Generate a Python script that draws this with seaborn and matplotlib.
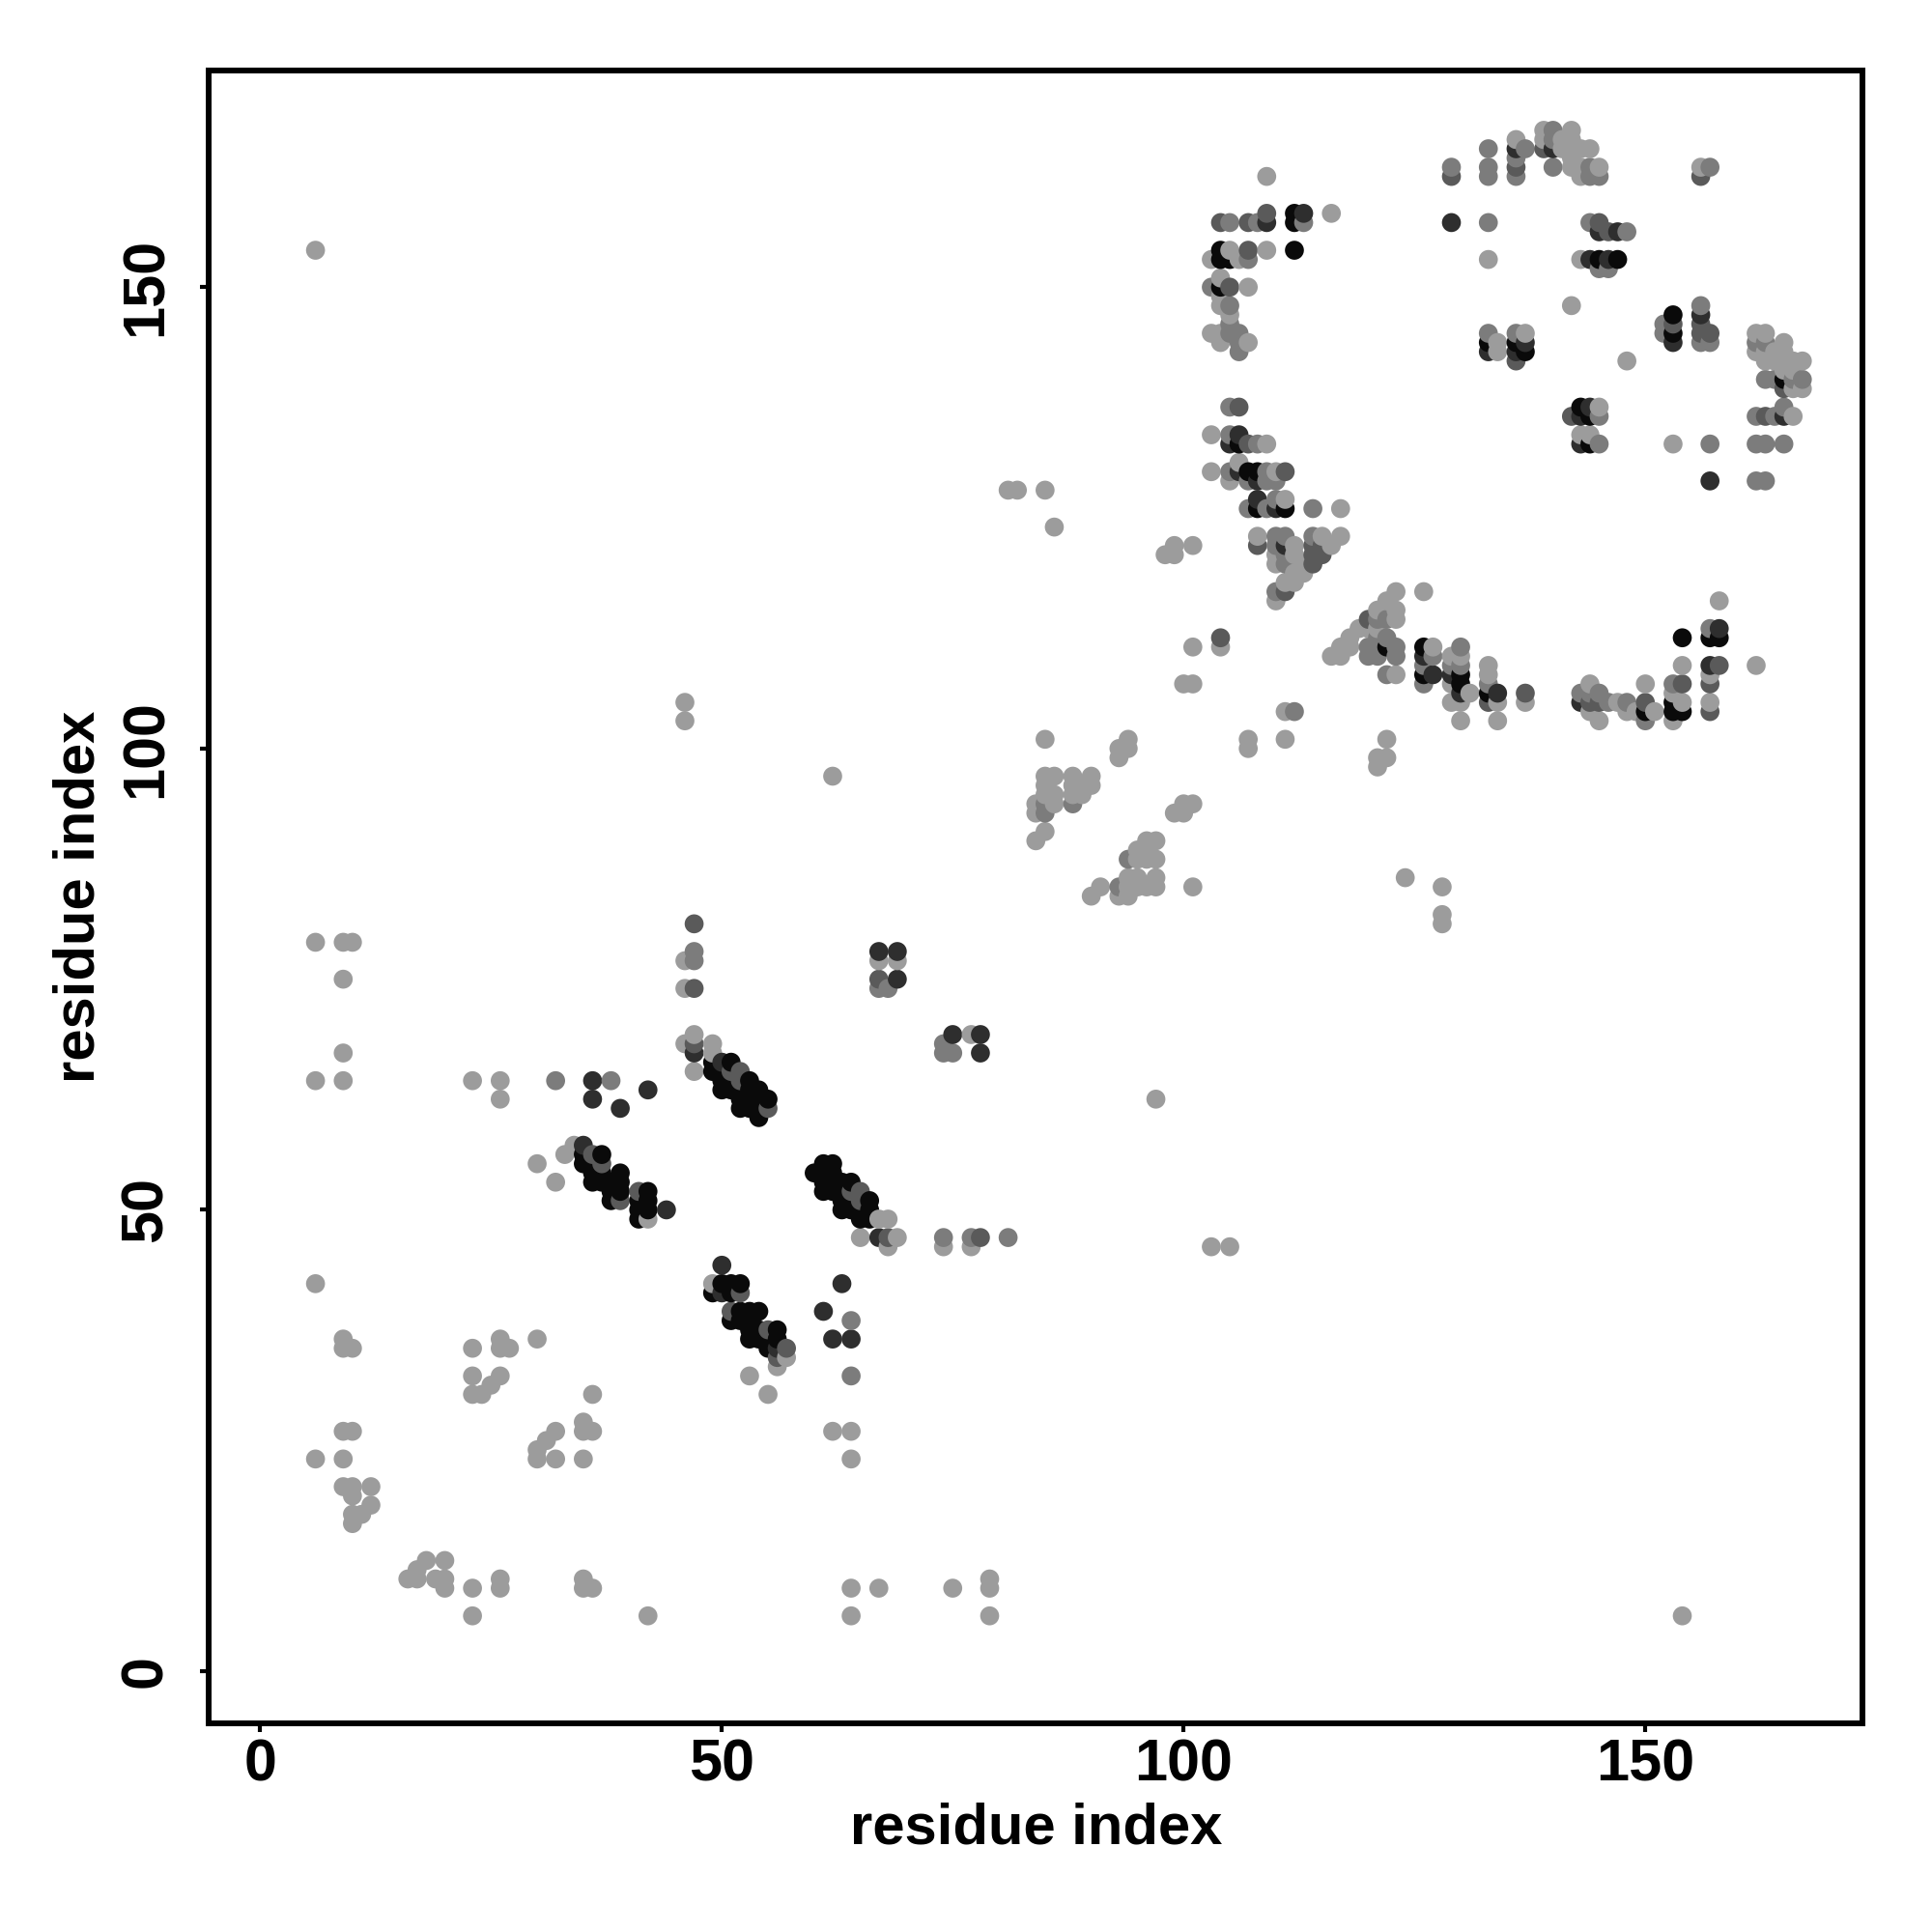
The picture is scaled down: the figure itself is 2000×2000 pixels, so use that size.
import matplotlib
matplotlib.use("Agg")
import matplotlib.pyplot as plt
import pandas as pd
import seaborn as sns

# contacts as (residue i, residue j), grouped by grey level
contacts_light = [
    (6,154),(6,79),(9,79),(10,79),(9,75),(9,67),(6,64),(9,64),(23,64),(26,64),(26,62),
    (6,42),(9,36),(9,35),(10,35),(23,35),(26,36),(26,35),(27,35),(30,36),(23,32),(26,32),
    (25,31),(24,30),(23,30),(36,30),(9,26),(10,26),(6,23),(9,23),(32,26),(31,25),(30,24),
    (30,23),(32,23),(35,27),(35,26),(36,26),(35,23),(9,20),(10,20),(12,20),(10,19),(12,18),
    (11,17),(10,17),(10,16),(18,12),(20,12),(17,11),(16,10),(17,10),(19,10),(20,10),(20,9),
    (23,9),(26,10),(26,9),(23,6),(35,10),(35,9),(36,9),(42,6),(64,9),(64,6),(67,9),(75,9),
    (79,10),(79,9),(79,6),(154,6),(97,62),(103,46),(105,46),(62,97),(46,105),(46,103),
    (30,55),(32,53),(33,56),(34,57),(42,49),(47,69),(46,68),(47,65),(49,68),(49,67),
    (67,49),(68,49),(65,47),(69,47),(68,46),(74,46),(77,46),(49,42),(57,34),(56,33),
    (53,32),(55,30),(62,26),(64,26),(64,23),(46,77),(46,74),(67,77),(69,77),(77,69),
    (100,107),(101,107),(111,104),(107,101),(107,100),(111,101),(85,101),(94,101),(93,100),
    (94,100),(93,99),(85,97),(86,97),(88,97),(90,97),(85,96),(88,96),(89,96),(90,96),
    (86,95),(85,95),(88,95),(89,95),(86,94),(84,94),(84,93),(85,91),(84,90),(101,94),(100,94),
    (100,93),(99,93),(96,90),(97,90),(95,89),(96,89),(95,88),(96,88),(97,88),(94,86),(95,86),
    (97,86),(94,85),(96,85),(97,85),(95,85),(101,85),(91,85),(90,84),(93,84),(94,84),
    (124,86),(128,85),(128,82),(128,81),(81,128),(82,128),(85,128),(86,124),(98,121),
    (99,122),(99,121),(101,122),(101,111),(104,111),(121,99),(122,99),(121,98),(122,101),
    (103,134),(109,133),(103,130),(106,131),(105,129),(110,130),(111,127),(117,126),
    (108,123),(112,122),(112,121),(115,123),(117,123),(116,122),(113,120),(113,119),(112,119),
    (111,118),(112,118),(110,116),(110,120),(110,121),(123,117),(126,117),(122,116),(123,115),
    (119,113),(118,112),(117,111),(118,111),(116,110),(117,110),(123,108),(127,111),
    (129,110),(130,110),(129,107),(131,106),(129,105),(130,105),(130,103),(133,109),(133,108),
    (134,105),(134,103),(137,105),(144,107),(144,104),(145,103),(147,105),(148,104),(149,104),
    (150,107),(151,104),(153,106),(154,105),(153,103),(154,109),(157,108),(157,105),(158,116),
    (162,109),(145,137),(143,134),(144,134),(153,133),(166,136),(136,166),(139,167),(139,166),
    (141,166),(142,167),(142,166),(142,165),(143,165),(144,165),(141,165),(142,164),(142,163),
    (143,163),(145,163),(143,162),(156,163),(143,153),(142,148),(148,142),(134,144),(134,143),
    (137,145),(162,145),(163,145),(162,143),(165,144),(163,143),(164,143),(165,143),(163,142),
    (164,142),(165,142),(166,142),(167,142),(166,139),(167,139),(165,141),(166,141),(109,162),
    (116,158),(105,154),(109,154),(103,153),(106,153),(104,151),(107,150),(104,149),(104,148),
    (105,147),(103,145),(104,145),(104,144),(107,144),(123,114),(120,113),(121,113),(121,115),
    (133,153),
]
contacts_mid = [
    (32,64),(38,64),(74,47),(77,47),(81,47),(64,38),(64,32),(47,78),(68,74),(67,74),
    (74,68),(74,67),(75,67),(47,77),(112,104),(85,94),(85,93),(88,94),(94,88),(93,85),
    (105,137),(105,134),(108,133),(105,130),(109,130),(109,129),(107,129),(110,129),(107,126),
    (109,126),(110,127),(114,126),(110,123),(111,123),(110,122),(111,121),(111,120),(114,123),
    (110,117),(121,114),(122,114),(121,112),(122,112),(123,111),(120,111),(121,111),(120,110),
    (121,110),(123,110),(127,110),(126,109),(126,107),(130,111),(129,109),(130,109),(133,107),
    (143,106),(144,106),(145,106),(146,105),(148,105),(150,103),(153,107),(153,105),(157,107),
    (157,104),(157,113),(145,136),(145,133),(157,133),(162,129),(163,129),(162,133),(163,133),
    (165,133),(162,136),(164,136),(165,137),(133,165),(133,163),(133,162),(137,165),(136,164),
    (136,162),(140,167),(140,166),(140,163),(144,163),(144,162),(145,162),(157,163),(144,157),
    (148,156),(145,152),(146,152),(133,145),(136,145),(152,146),(152,145),(156,148),(156,144),
    (157,144),(162,144),(163,144),(163,140),(164,140),(166,140),(167,140),(105,157),(108,157),
    (113,157),(107,153),(103,150),(105,148),(105,146),(106,145),(106,144),(106,143),(105,145),
    (129,163),(133,157),(122,108),
]
contacts_dark = [
    (55,37),(57,35),(56,34),(68,47),(78,47),(47,81),(47,74),(67,75),(75,69),(106,137),
    (105,133),(107,133),(111,130),(108,122),(114,122),(115,122),(104,112),(114,121),
    (115,121),(111,117),(120,114),(137,106),(133,106),(133,105),(143,105),(144,105),(145,105),
    (150,105),(154,107),(158,109),(157,107),(157,104),(142,136),(163,136),(165,139),(156,162),
    (133,143),(136,142),(145,157),(146,156),(153,146),(156,146),(156,145),(157,145),(104,157),
    (107,157),(109,158),(107,154),(105,150),(139,165),(136,163),(52,41),(51,39),(55,61),
    (47,68),(64,52),(65,52),(65,51),(51,65),(52,65),(52,64),(41,52),(39,51),(36,56),(37,55),
    (129,162),(114,120),
]
contacts_deep = [
    (36,64),(36,62),(39,61),(42,63),(44,50),(35,57),(47,67),(50,66),(50,44),(63,42),(61,39),
    (62,36),(64,36),(56,35),(67,47),(69,78),(67,78),(69,75),(75,69),(78,69),(78,67),(106,134),
    (105,133),(106,130),(108,129),(108,127),(110,126),(111,122),(126,110),(127,108),(129,108),
    (130,106),(134,106),(130,108),(143,105),(158,113),(157,109),(144,137),(143,136),(143,133),
    (133,143),(136,143),(137,144),(136,165),(140,165),(145,156),(147,156),(144,153),(146,153),
    (153,144),(156,147),(113,158),(109,157),(157,129),(165,136),(50,41),(129,157),
]
contacts_black = [
    (37,56),(35,55),(36,55),(36,54),(37,54),(35,56),(36,53),(37,53),(38,53),(38,52),(39,54),
    (39,53),(39,52),(38,51),(41,51),(41,50),(42,52),(42,51),(42,50),(41,49),
    (49,66),(49,65),(50,65),(50,64),(50,63),(51,66),(51,64),(51,63),(52,63),(52,62),(52,61),
    (53,64),(53,63),(53,62),(53,61),(54,63),(54,62),(54,61),(54,60),(55,62),
    (60,54),(61,55),(62,55),(61,54),(61,53),(61,52),(62,54),(62,53),(62,52),(63,53),(63,52),
    (63,51),(63,50),(64,53),(64,51),(64,50),(65,50),(65,49),(66,51),(66,50),(66,49),
    (50,42),(51,42),(52,42),(49,41),(51,41),(51,38),(52,39),(53,39),(54,39),(52,38),(53,38),
    (53,37),(54,37),(56,37),(53,36),(54,36),(55,36),(56,36),(55,35),
    (106,133),(107,130),(108,130),(108,126),(111,126),(122,111),(126,111),(126,108),(130,107),
    (133,106),(150,104),(153,104),(154,104),(153,105),(154,112),(157,112),(158,112),
    (143,137),(144,136),(144,133),(133,144),(136,144),(137,143),(145,153),(147,153),(153,147),
    (153,145),(165,140),(112,158),(112,157),(104,154),(112,154),(104,153),(105,153),(104,150),
    (106,133),(130,108),
]

shade_names = ["light", "mid", "dark", "deep", "black"]
shade_colors = ["#9c9c9c", "#7c7c7c", "#5a5a5a", "#2e2e2e", "#0a0a0a"]
all_contacts = [contacts_light, contacts_mid, contacts_dark, contacts_deep, contacts_black]

tick_values = [0, 50, 100, 150]

rows = []
for name, pairs in zip(shade_names, all_contacts):
    for i, j in pairs:
        rows.append({"i": i, "j": j, "shade": name})
df = pd.DataFrame(rows)
# darkest reading wins if a pair was noted twice, then draw in residue order
df["rank"] = df["shade"].map({n: k for k, n in enumerate(shade_names)})
df = df.sort_values("rank").drop_duplicates(["i", "j"], keep="last")
df = df.sort_values(["i", "j"])

sns.set_theme(style="white")
plt.rcParams["font.family"] = ["Liberation Sans", "DejaVu Sans"]

fig = plt.figure(figsize=(20, 20), dpi=100)
ax = fig.add_axes([0.108, 0.108, 0.8562, 0.8556])

sns.scatterplot(
    data=df, x="i", y="j", hue="shade", hue_order=shade_names,
    palette=dict(zip(shade_names, shade_colors)),
    s=200, linewidth=0, legend=False, ax=ax,
)

ax.set_xlim(-5.57, 173.55)
ax.set_ylim(-5.65, 173.5)
ax.set_xticks(tick_values)
ax.set_yticks(tick_values)
ax.tick_params(axis="both", length=6.5, width=3, color="black", labelsize=44, bottom=True, left=True)
ax.tick_params(axis="x", pad=5)
ax.tick_params(axis="y", pad=19)
for lab in ax.get_xticklabels():
    lab.set_fontweight("bold")
    lab.set_color("black")
for lab in ax.get_yticklabels():
    lab.set_fontweight("bold")
    lab.set_color("black")
    lab.set_rotation(90)
    lab.set_verticalalignment("center")

ax.set_xlabel("residue index", fontsize=43, fontweight="bold", color="black", labelpad=6)
ax.set_ylabel("residue index", fontsize=43, fontweight="bold", color="black", labelpad=10)

for side in ax.spines.values():
    side.set_visible(True)
    side.set_linewidth(4.3)
    side.set_color("black")

fig.savefig("out.png", dpi=100, facecolor="white")
